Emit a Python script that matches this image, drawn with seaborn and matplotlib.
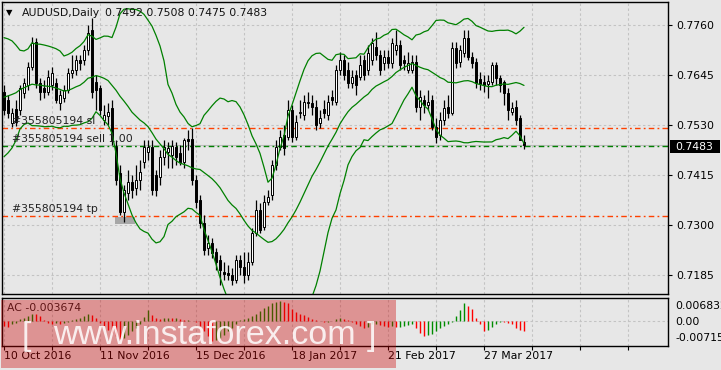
import numpy as np
import pandas as pd
import matplotlib
matplotlib.use("Agg")
import matplotlib.pyplot as plt
import seaborn as sns
from matplotlib.patches import Rectangle
from matplotlib import font_manager

# ---------------- data ----------------
opens = [0.7606, 0.7588, 0.7535, 0.7567, 0.7565, 0.7604, 0.7622, 0.7663, 0.7721, 0.7627,
         0.7615, 0.7606, 0.7622, 0.7627, 0.7581, 0.7592, 0.7611, 0.7650, 0.7657, 0.7680,
         0.7680, 0.7703, 0.7749, 0.7629, 0.7615, 0.7542, 0.7551, 0.7569, 0.7479, 0.7420,
         0.7330, 0.7374, 0.7399, 0.7385, 0.7404, 0.7445, 0.7468, 0.7479, 0.7415, 0.7410,
         0.7456, 0.7468, 0.7461, 0.7479, 0.7466, 0.7445, 0.7498, 0.7498, 0.7404, 0.7358,
         0.7305, 0.7247, 0.7259, 0.7238, 0.7220, 0.7192, 0.7190, 0.7185, 0.7174, 0.7220,
         0.7203, 0.7185, 0.7215, 0.7282, 0.7335, 0.7295, 0.7353, 0.7369, 0.7438, 0.7479,
         0.7508, 0.7502, 0.7565, 0.7502, 0.7558, 0.7553, 0.7583, 0.7581, 0.7571, 0.7535,
         0.7567, 0.7553, 0.7594, 0.7583, 0.7657, 0.7680, 0.7657, 0.7627, 0.7645, 0.7640,
         0.7680, 0.7657, 0.7680, 0.7709, 0.7691, 0.7673, 0.7686, 0.7673, 0.7703, 0.7714,
         0.7680, 0.7657, 0.7657, 0.7675, 0.7571, 0.7588, 0.7576, 0.7588, 0.7525, 0.7508,
         0.7542, 0.7571, 0.7558, 0.7707, 0.7675, 0.7696, 0.7730, 0.7686, 0.7675, 0.7636,
         0.7629, 0.7624, 0.7629, 0.7668, 0.7638, 0.7629, 0.7604, 0.7560, 0.7571, 0.7546,
         0.7492]
highs = [0.7622, 0.7599, 0.7569, 0.7588, 0.7622, 0.7638, 0.7675, 0.7732, 0.7730, 0.7638,
         0.7634, 0.7657, 0.7663, 0.7638, 0.7611, 0.7622, 0.7661, 0.7691, 0.7691, 0.7691,
         0.7714, 0.7760, 0.7776, 0.7645, 0.7622, 0.7576, 0.7581, 0.7588, 0.7496, 0.7438,
         0.7392, 0.7427, 0.7415, 0.7438, 0.7450, 0.7496, 0.7496, 0.7496, 0.7427, 0.7473,
         0.7496, 0.7491, 0.7496, 0.7491, 0.7484, 0.7500, 0.7519, 0.7523, 0.7415, 0.7369,
         0.7323, 0.7277, 0.7270, 0.7247, 0.7231, 0.7215, 0.7208, 0.7201, 0.7231, 0.7231,
         0.7238, 0.7238, 0.7293, 0.7358, 0.7351, 0.7369, 0.7381, 0.7450, 0.7496, 0.7519,
         0.7530, 0.7588, 0.7576, 0.7553, 0.7588, 0.7599, 0.7606, 0.7599, 0.7588, 0.7565,
         0.7588, 0.7599, 0.7611, 0.7668, 0.7698, 0.7691, 0.7675, 0.7657, 0.7657, 0.7691,
         0.7691, 0.7714, 0.7730, 0.7744, 0.7703, 0.7703, 0.7703, 0.7730, 0.7749, 0.7726,
         0.7691, 0.7698, 0.7691, 0.7691, 0.7611, 0.7599, 0.7611, 0.7599, 0.7546, 0.7560,
         0.7588, 0.7599, 0.7721, 0.7721, 0.7714, 0.7749, 0.7749, 0.7698, 0.7684, 0.7652,
         0.7645, 0.7645, 0.7675, 0.7675, 0.7645, 0.7634, 0.7615, 0.7583, 0.7588, 0.7553,
         0.7508]
lows = [0.7553, 0.7546, 0.7525, 0.7528, 0.7553, 0.7592, 0.7611, 0.7657, 0.7615, 0.7588,
        0.7592, 0.7599, 0.7611, 0.7581, 0.7565, 0.7583, 0.7604, 0.7638, 0.7645, 0.7657,
        0.7668, 0.7691, 0.7592, 0.7565, 0.7553, 0.7530, 0.7530, 0.7484, 0.7392, 0.7323,
        0.7307, 0.7358, 0.7362, 0.7369, 0.7381, 0.7431, 0.7450, 0.7369, 0.7367, 0.7392,
        0.7438, 0.7431, 0.7431, 0.7438, 0.7438, 0.7431, 0.7473, 0.7392, 0.7339, 0.7293,
        0.7231, 0.7231, 0.7224, 0.7197, 0.7162, 0.7174, 0.7174, 0.7162, 0.7167, 0.7185,
        0.7167, 0.7174, 0.7208, 0.7275, 0.7282, 0.7289, 0.7346, 0.7358, 0.7427, 0.7473,
        0.7461, 0.7496, 0.7491, 0.7496, 0.7546, 0.7542, 0.7569, 0.7553, 0.7519, 0.7523,
        0.7546, 0.7542, 0.7576, 0.7576, 0.7645, 0.7634, 0.7615, 0.7615, 0.7599, 0.7634,
        0.7634, 0.7645, 0.7668, 0.7680, 0.7645, 0.7657, 0.7661, 0.7661, 0.7691, 0.7657,
        0.7657, 0.7650, 0.7650, 0.7560, 0.7542, 0.7558, 0.7565, 0.7519, 0.7489, 0.7496,
        0.7530, 0.7546, 0.7553, 0.7661, 0.7663, 0.7686, 0.7680, 0.7661, 0.7615, 0.7611,
        0.7606, 0.7592, 0.7622, 0.7622, 0.7606, 0.7576, 0.7542, 0.7553, 0.7530, 0.7496,
        0.7475]
closes = [0.7565, 0.7558, 0.7558, 0.7537, 0.7615, 0.7627, 0.7663, 0.7719, 0.7627, 0.7606,
          0.7606, 0.7640, 0.7650, 0.7588, 0.7599, 0.7611, 0.7650, 0.7657, 0.7680, 0.7673,
          0.7703, 0.7742, 0.7606, 0.7611, 0.7565, 0.7553, 0.7560, 0.7496, 0.7404, 0.7330,
          0.7381, 0.7399, 0.7381, 0.7404, 0.7422, 0.7479, 0.7479, 0.7381, 0.7381, 0.7456,
          0.7479, 0.7477, 0.7482, 0.7456, 0.7445, 0.7496, 0.7493, 0.7404, 0.7353, 0.7305,
          0.7243, 0.7259, 0.7236, 0.7215, 0.7197, 0.7187, 0.7185, 0.7174, 0.7220, 0.7203,
          0.7185, 0.7215, 0.7282, 0.7335, 0.7289, 0.7353, 0.7364, 0.7438, 0.7479, 0.7502,
          0.7477, 0.7565, 0.7502, 0.7537, 0.7560, 0.7583, 0.7581, 0.7571, 0.7530, 0.7546,
          0.7558, 0.7583, 0.7588, 0.7657, 0.7680, 0.7645, 0.7627, 0.7640, 0.7622, 0.7668,
          0.7645, 0.7696, 0.7719, 0.7691, 0.7657, 0.7686, 0.7673, 0.7719, 0.7714, 0.7668,
          0.7673, 0.7673, 0.7675, 0.7571, 0.7594, 0.7576, 0.7583, 0.7525, 0.7502, 0.7542,
          0.7569, 0.7558, 0.7707, 0.7673, 0.7703, 0.7730, 0.7686, 0.7673, 0.7627, 0.7624,
          0.7622, 0.7631, 0.7668, 0.7638, 0.7622, 0.7604, 0.7565, 0.7569, 0.7542, 0.7496,
          0.7483]
# closes of the 19 sessions before the visible window (indicator warm-up, estimated
# so that the Bollinger bands start where the picture shows them)
warmup_closes = [0.7500, 0.7490, 0.7460, 0.7470, 0.7540, 0.7580, 0.7640, 0.7660, 0.7615,
                 0.7640, 0.7660, 0.7670, 0.7650, 0.7660, 0.7690, 0.7620, 0.7580, 0.7590,
                 0.7600]
ac_values = [-0.0018, -0.0022, -0.0012, -0.0006, 0.0006, 0.0012, 0.0017, 0.0026, 0.0024, 0.0017,
             0.0002, -0.0006, -0.0010, -0.0007, -0.0011, -0.0007, -0.0005, 0.0002, 0.0007, 0.0012,
             0.0017, 0.0024, 0.0022, 0.0010, -0.0006, -0.0018, -0.0030, -0.0042, -0.0054, -0.0062,
             -0.0058, -0.0048, -0.0036, -0.0024, -0.0010, 0.0014, 0.0038, 0.0022, 0.0012, 0.0007,
             0.0010, 0.0012, 0.0011, 0.0012, 0.0007, 0.0002, 0.0004, 0.0001, -0.0004, -0.0018,
             -0.0036, -0.0054, -0.00715, -0.0066, -0.0058, -0.0048, -0.0036, -0.0024, -0.0012, 0.0002,
             0.0007, 0.0012, 0.0019, 0.0026, 0.0036, 0.0046, 0.0054, 0.0062, 0.0066, 0.006832,
             0.0067, 0.0062, 0.0042, 0.0030, 0.0024, 0.0022, 0.0014, 0.0008, 0.0002, -0.0001,
             -0.0004, -0.0002, -0.0001, 0.0007, 0.0010, 0.0006, 0.0002, -0.0005, -0.0012, -0.0019,
             -0.0026, -0.0022, -0.0012, -0.0011, -0.0014, -0.0018, -0.0022, -0.0019, -0.0022, -0.0020,
             -0.0018, -0.0014, -0.0010, -0.0024, -0.0042, -0.0052, -0.0048, -0.0044, -0.0036, -0.0024,
             -0.0018, -0.0012, -0.0002, 0.0018, 0.0038, 0.0062, 0.0053, 0.0041, 0.0012, -0.0012,
             -0.0034, -0.0030, -0.0022, -0.0012, -0.0002, -0.0004, -0.0007, -0.0012, -0.0024, -0.0031,
             -0.003674]

date_labels = ["10 Oct 2016", "11 Nov 2016", "15 Dec 2016", "18 Jan 2017", "21 Feb 2017", "27 Mar 2017"]
date_positions = [0, 24, 48, 72, 96, 120]
price_ticks = [0.7760, 0.7645, 0.7530, 0.7415, 0.7300, 0.7185]
sl_level, sell_level, tp_level = 0.7524, 0.7482, 0.7321
order_id = "#355805194"
last_price = 0.7483
ac_tick_labels = ["0.006832", "0.00", "-0.00715"]
header_values = "0.7492 0.7508 0.7475 0.7483"
bb_period, bb_dev = 20, 2

# ---------------- style ----------------
sns.set_style("white")
plt.rcParams["font.family"] = ["DejaVu Sans"]
BG = "#e7e7e7"
GRID = "#c3c3c3"
FS = 7.8

W, H = 721, 370
def fx(px): return px / W
def fy(py): return 1 - py / H

fig = plt.figure(figsize=(W / 100, H / 100), dpi=100)
fig.patch.set_facecolor(BG)
ax = fig.add_axes([fx(2), fy(294), fx(668) - fx(2), fy(2) - fy(294)])
ax2 = fig.add_axes([fx(2), fy(346), fx(668) - fx(2), fy(298) - fy(346)])
for a in (ax, ax2):
    a.set_facecolor(BG)
    for s in a.spines.values():
        s.set_color("black")
        s.set_linewidth(1.0)
        s.set_visible(True)

n = len(closes)
x = np.arange(n)
o = np.array(opens); c = np.array(closes); h = np.array(highs); l = np.array(lows)

# Bollinger bands
allc = pd.Series(warmup_closes + closes)
mid = allc.rolling(bb_period).mean().iloc[-n:].to_numpy()
sd = allc.rolling(bb_period).std(ddof=0).iloc[-n:].to_numpy()
bands = pd.DataFrame({"x": x, "upper": mid + bb_dev * sd, "middle": mid, "lower": mid - bb_dev * sd})

grid_x = np.arange(0, 168, 12)
ax.set_xlim(-0.5, 166)
ax.set_ylim(0.71413, 0.78129)
ax.set_xticks(grid_x)
ax.set_yticks(price_ticks)
ax.set_yticklabels([f"{t:.4f}" for t in price_ticks])
ax.yaxis.tick_right()
ax.tick_params(axis="y", right=True, left=False, labelright=True, labelleft=False,
               length=3, width=0.8, pad=3, labelsize=FS, colors="black")
ax.tick_params(axis="x", length=0, labelbottom=False)
ax.grid(True, color=GRID, linestyle=(0, (2.2, 2.2)), linewidth=0.8)
ax.set_axisbelow(True)

# trade marker box
ax.add_patch(Rectangle((27.75, 0.7302), 5.0, 0.0016, facecolor="#a7a7a7", edgecolor="none", zorder=1.5))

# level lines
ax.axhline(last_price, color="#bdbdbd", lw=0.8, zorder=1.6)
ax.axhline(sl_level, color="#ff4000", lw=1.0, dashes=(4, 2.3, 1.3, 2.3), zorder=1.7)
ax.axhline(tp_level, color="#ff4000", lw=1.0, dashes=(4, 2.3, 1.3, 2.3), zorder=1.7)
ax.axhline(sell_level, color="#008000", lw=1.0, dashes=(4, 2.3, 1.3, 2.3), zorder=1.7)

# candles
ax.vlines(x, l, h, color="black", lw=0.9, zorder=2)
bottom = np.minimum(o, c)
height = np.maximum(np.abs(c - o), 0.00008)
ax.bar(x, height, bottom=bottom, width=0.62,
       color=np.where(c >= o, "white", "black"), edgecolor="black", linewidth=0.7, zorder=3)

# bands
for col in ["upper", "middle", "lower"]:
    sns.lineplot(data=bands, x="x", y=col, ax=ax, color="#008000", lw=0.9, legend=False, zorder=4)
ax.set_xlabel(""); ax.set_ylabel("")

# order labels
for lvl, txt in [(sl_level, order_id + " sl"), (sell_level, order_id + " sell 1.00"), (tp_level, order_id + " tp")]:
    ax.annotate(txt, xy=(2, lvl), xytext=(0, 5), textcoords="offset points",
                va="center", ha="left", fontsize=FS, color="#222222", zorder=5)

# current price box
fig.patches.append(Rectangle((fx(670), fy(153)), fx(720) - fx(670), fy(140) - fy(153),
                             transform=fig.transFigure, facecolor="black", edgecolor="none", zorder=5))
fig.text(fx(675), fy(146.5), f"{last_price:.4f}", color="white", fontsize=FS, va="center", ha="left", zorder=6)

# header
fig.text(fx(6), fy(12.5), "\u25BC", fontsize=6, va="center", ha="left", color="black")
fig.text(fx(21.5), fy(12.5), "AUDUSD,Daily", fontsize=FS, va="center", ha="left", color="#111111")
fig.text(fx(105), fy(12.5), header_values, fontsize=FS, va="center", ha="left", color="#111111")

# ---------------- AC panel ----------------
ac = np.array(ac_values)
prev = np.concatenate([[ac[0] + 1], ac[:-1]])
ac_colors = np.where(ac > prev, "#008c00", "#ff0000")
ax2.set_xlim(-0.5, 166)
ax2.set_ylim(-0.00875, 0.00805)
ax2.vlines(x, 0, ac, colors=ac_colors, lw=1.0, zorder=3)
ax2.axhline(0, color=GRID, linestyle=(0, (2.2, 2.2)), lw=0.8, zorder=1)
ax2.set_xticks(grid_x)
lab = ["" for _ in grid_x]
for p, t in zip(date_positions, date_labels):
    lab[list(grid_x).index(p)] = t
ax2.set_xticklabels(lab, ha="left", fontsize=FS)
ax2.tick_params(axis="x", bottom=True, length=3, width=0.8, pad=0.5, colors="black")
ax2.set_yticks([])
ax2.grid(True, axis="x", color=GRID, linestyle=(0, (2.2, 2.2)), linewidth=0.8)
ax2.set_axisbelow(True)
ax2.text(0.008, 0.79, f"AC {ac_values[-1]:.6f}", transform=ax2.transAxes, fontsize=FS,
         va="center", ha="left", color="#222222")
for frac, t in zip([0.833, 0.51, 0.167], ac_tick_labels):
    fig.text(fx(675), fy(346 - frac * 48), t, fontsize=FS, va="center", ha="left", color="black")

# ---------------- watermark ----------------
fig.patches.append(Rectangle((fx(1), fy(368)), fx(396) - fx(1), fy(300) - fy(368),
                             transform=fig.transFigure, facecolor="#cc0000", alpha=0.36,
                             edgecolor="none", zorder=8))
names = {f.name for f in font_manager.fontManager.ttflist}
if "Liberation Sans Narrow" in names:
    wm_family, wm_size = "Liberation Sans Narrow", 30
else:
    wm_family, wm_size = "Liberation Sans", 24.5
fig.text(fx(22), fy(336), "[", fontsize=wm_size, family=wm_family, color="white", alpha=0.85,
         va="center", ha="left", zorder=9)
fig.text(fx(53), fy(336), "www.instaforex.com", fontsize=wm_size, family=wm_family, color="white",
         alpha=0.85, va="center", ha="left", zorder=9)
fig.text(fx(367), fy(336), "]", fontsize=wm_size, family=wm_family, color="white", alpha=0.85,
         va="center", ha="left", zorder=9)

fig.savefig("out.png", dpi=100, facecolor=BG)
